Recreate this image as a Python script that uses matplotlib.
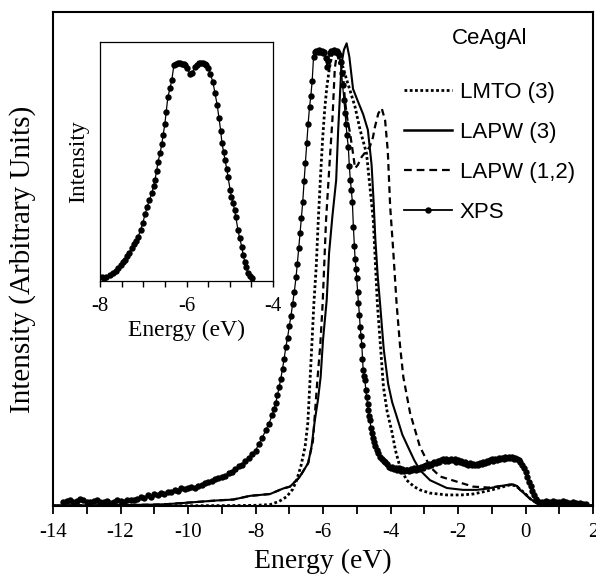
import matplotlib
matplotlib.use("Agg")
import matplotlib.pyplot as plt
from matplotlib.ticker import MultipleLocator, FixedLocator, NullLocator
from matplotlib.lines import Line2D

plt.rcParams['axes.unicode_minus'] = False
plt.rcParams['font.family'] = ['Liberation Serif', 'DejaVu Serif']

# ---------------- data ----------------
# LMTO (3) calculated spectrum
lmto_e = [-14, -10, -8.5, -8.0, -7.57, -7.3, -7.08, -6.9, -6.78, -6.65, -6.53, -6.45,
          -6.39, -6.33, -6.27, -6.2, -6.14, -6.07, -6.01, -5.95, -5.89, -5.81, -5.74,
          -5.68, -5.62, -5.56, -5.50, -5.41, -5.30, -5.2, -5.05, -4.9, -4.71, -4.61,
          -4.51, -4.45, -4.39, -4.3, -4.21, -4.1, -3.97, -3.85, -3.72, -3.52, -3.3,
          -3.13, -2.83, -2.33, -1.9, -1.55, -1.3, -1.0, -0.7, -0.45, -0.3, -0.15, 0.0,
          0.15, 0.35, 0.6, 1.0, 2.0]
lmto_i = [0.0, 0.05, 0.1, 0.15, 0.3, 1.0, 2.0, 3.6, 5.6, 8.8, 12.9, 18,
          26.5, 35, 44, 52, 62, 72, 79.8, 86, 90.7, 95, 97.8,
          98.8, 99, 98, 95.7, 95.3, 92.5, 90.2, 86.6, 81.6, 76.5, 69.3,
          62, 53, 44, 35, 25.9, 20.5, 16.5, 12, 8.5, 5.6, 4.2,
          3.5, 2.8, 2.4, 2.4, 2.6, 3.0, 3.5, 4.1, 4.6, 4.4, 3.6, 2.6,
          1.5, 0.6, 0.3, 0.15, 0.1]

# LAPW (3) calculated spectrum
lapw3_e = [-14, -12, -11, -10.63, -10.15, -9.15, -8.66, -8.16, -7.57, -7.18, -6.98,
           -6.7, -6.44, -6.34, -6.24, -6.15, -6.07, -6.0, -5.89, -5.82, -5.72, -5.61,
           -5.55, -5.45, -5.38, -5.30, -5.22, -5.11, -5.03, -4.96, -4.81, -4.67, -4.56,
           -4.50, -4.45, -4.38, -4.31, -4.20, -4.07, -3.95, -3.82, -3.65, -3.48, -3.30,
           -3.13, -2.83, -2.33, -1.85, -1.45, -1.10, -0.85, -0.60, -0.37, -0.25, -0.16,
           0.0, 0.13, 0.33, 0.6, 1.0, 2.0]
lapw3_i = [0.1, 0.2, 0.3, 0.4, 0.65, 1.2, 1.4, 2.2, 2.6, 3.8, 4.2,
           6.2, 9.3, 12.9, 18.7, 23, 28, 36, 44.7, 54.9, 63, 70.7,
           81.6, 96, 99, 100.4, 97.5, 90.5, 89, 87.7, 85, 81.6, 74,
           66, 58, 50, 44, 34, 26.5, 22.5, 19.5, 15.5, 12.8, 10,
           7.8, 5.6, 3.9, 3.5, 3.5, 3.8, 4.2, 4.5, 4.7, 4.3, 3.5,
           2.5, 1.6, 0.65, 0.3, 0.2, 0.1]

# LAPW (1,2) calculated spectrum
lapw12_e = [-14, -12, -11, -10.63, -10.15, -9.15, -8.66, -8.16, -7.57, -7.18, -6.98,
            -6.7, -6.44, -6.3, -6.17, -6.08, -6.01, -5.91, -5.8, -5.72, -5.65, -5.58,
            -5.5, -5.4, -5.35, -5.28, -5.2, -5.12, -5.05, -4.97, -4.85, -4.72, -4.61,
            -4.52, -4.46, -4.36, -4.26, -4.16, -4.08, -4.01, -3.92, -3.82, -3.72, -3.62,
            -3.42, -3.13, -2.83, -2.53, -2.04, -1.55, -1.10, -0.85, -0.60, -0.37, -0.25,
            -0.16, 0.0, 0.13, 0.33, 0.6, 1.0, 2.0]
lapw12_i = [0.1, 0.2, 0.3, 0.4, 0.65, 1.2, 1.4, 2.2, 2.6, 3.8, 4.2,
            6.2, 9.3, 14, 27, 35, 44, 62, 75, 84, 95, 98.5,
            97, 93, 88, 84, 81, 77, 73.3, 74, 75.8, 77, 78,
            80, 82.3, 85.2, 86.3, 83.7, 77, 65, 55.5, 44, 35, 28,
            20.2, 12.9, 8.5, 6.4, 5.3, 4.2, 4.0, 4.2, 4.5, 4.7, 4.3,
            3.5, 2.5, 1.6, 0.65, 0.3, 0.2, 0.1]

# XPS measurement
xps_e = [-13.70, -13.60, -13.50, -13.40, -13.30, -13.20, -13.10, -13.00, -12.90, -12.80,
         -12.70, -12.60, -12.50, -12.40, -12.30, -12.20, -12.10, -12.00, -11.90, -11.80,
         -11.70, -11.60, -11.50, -11.40, -11.30, -11.20, -11.10, -11.00, -10.90, -10.80,
         -10.70, -10.60, -10.50, -10.40, -10.30, -10.20, -10.10, -10.00, -9.90, -9.80,
         -9.70, -9.60, -9.50, -9.40, -9.30, -9.20, -9.10, -9.00, -8.90, -8.80,
         -8.70, -8.60, -8.50, -8.40, -8.30, -8.20, -8.10, -8.00, -7.90, -7.80,
         -7.70, -7.60, -7.50, -7.45, -7.40, -7.35, -7.30, -7.25, -7.20, -7.15,
         -7.10, -7.05, -7.00, -6.95, -6.90, -6.85, -6.80, -6.76, -6.72, -6.68,
         -6.64, -6.60, -6.56, -6.52, -6.48, -6.44, -6.40, -6.36, -6.32, -6.28,
         -6.24, -6.20, -6.16, -6.12, -6.08, -6.04, -6.00, -5.96, -5.92, -5.88,
         -5.84, -5.80, -5.76, -5.72, -5.68, -5.64, -5.60, -5.56, -5.52, -5.48,
         -5.45, -5.42, -5.38, -5.35, -5.32, -5.29, -5.25, -5.22, -5.19, -5.16,
         -5.13, -5.10, -5.07, -5.05, -5.02, -5.00, -4.97, -4.95, -4.92, -4.90,
         -4.87, -4.85, -4.83, -4.81, -4.78, -4.76, -4.73, -4.71, -4.68, -4.66,
         -4.63, -4.61, -4.58, -4.56, -4.52, -4.49, -4.45, -4.41, -4.36, -4.31,
         -4.26, -4.20, -4.15, -4.10, -4.05, -4.00, -3.95, -3.90, -3.85, -3.80,
         -3.75, -3.70, -3.65, -3.60, -3.55, -3.50, -3.45, -3.40, -3.35, -3.30,
         -3.25, -3.20, -3.15, -3.10, -3.05, -3.00, -2.95, -2.90, -2.85, -2.80,
         -2.75, -2.70, -2.65, -2.60, -2.55, -2.50, -2.45, -2.40, -2.35, -2.30,
         -2.25, -2.20, -2.15, -2.10, -2.05, -2.00, -1.95, -1.90, -1.85, -1.80,
         -1.75, -1.70, -1.65, -1.60, -1.55, -1.50, -1.45, -1.40, -1.35, -1.30,
         -1.25, -1.20, -1.15, -1.10, -1.05, -1.00, -0.95, -0.90, -0.85, -0.80,
         -0.75, -0.70, -0.65, -0.60, -0.55, -0.50, -0.45, -0.40, -0.35, -0.30,
         -0.25, -0.20, -0.15, -0.10, -0.05, 0.00, 0.05, 0.10, 0.15, 0.20,
         0.25, 0.30, 0.35, 0.40, 0.50, 0.60, 0.70, 0.80, 0.90, 1.00,
         1.10, 1.20, 1.30, 1.40, 1.50, 1.60, 1.70, 1.80]
xps_i = [0.8, 1.0, 1.2, 0.9, 1.1, 1.5, 1.2, 0.8, 0.9, 1.1,
         1.3, 0.9, 0.8, 1.0, 0.7, 0.9, 1.4, 1.0, 0.8, 1.2,
         1.4, 1.3, 1.6, 1.9, 1.8, 2.3, 2.0, 2.6, 2.4, 2.9,
         2.7, 3.1, 3.0, 3.4, 3.2, 3.8, 3.6, 3.9, 4.1, 3.9,
         4.4, 4.6, 4.9, 5.1, 5.4, 5.8, 6.0, 6.4, 6.5, 7.1,
         7.3, 8.0, 8.6, 9.0, 9.7, 10.4, 11.2, 12.0, 13.5, 14.8,
         16.4, 17.9, 19.8, 21.0, 22.4, 24.0, 25.8, 27.6, 29.8, 32.0,
         34.6, 36.5, 39.0, 41.2, 43.8, 46.5, 49.6, 52.6, 56.0, 59.2,
         62.5, 66.0, 70.5, 74.5, 78.8, 83.0, 86.5, 89.0, 92.3, 97.5,
         98.6, 98.8, 98.5, 99.0, 98.6, 98.8, 98.3, 98.6, 97.2, 95.2,
         96.5, 98.2, 98.8, 98.5, 98.9, 98.6, 98.8, 98.4, 97.8, 96.3,
         94.0, 91.4, 88.0, 85.2, 83.0, 80.5, 77.9, 73.8, 70.7, 68.5,
         66.0, 60.6, 56.5, 53.7, 51.5, 49.4, 46.5, 44.0, 41.5, 38.9,
         36.8, 34.9, 32.0, 29.5, 28.3, 27.3, 25.2, 23.7, 22.2, 20.8,
         19.6, 18.7, 17.0, 15.8, 14.8, 13.9, 13.0, 12.1, 11.4, 10.7,
         10.3, 9.8, 9.5, 9.2, 8.5, 8.2, 8.4, 8.0, 8.3, 7.9,
         8.2, 7.7, 8.0, 7.6, 7.9, 7.8, 7.5, 8.0, 7.8, 8.2,
         7.9, 8.3, 8.0, 8.5, 8.2, 8.6, 8.9, 8.7, 9.2, 9.0,
         9.4, 9.6, 9.3, 9.8, 9.5, 9.9, 10.2, 9.8, 10.1, 9.7,
         10.0, 10.3, 9.9, 10.1, 9.6, 9.9, 9.5, 9.8, 9.3, 9.6,
         9.2, 9.0, 9.4, 8.9, 9.2, 8.8, 9.1, 9.0, 9.3, 9.1,
         9.5, 9.4, 9.7, 9.5, 9.9, 10.1, 9.8, 10.2, 10.0, 10.4,
         10.2, 10.5, 10.3, 10.6, 10.4, 10.7, 10.5, 10.6, 10.3, 10.5,
         10.2, 10.0, 9.6, 9.0, 8.2, 7.4, 6.4, 5.3, 4.3, 3.2,
         2.3, 1.6, 1.1, 0.9, 0.8, 1.0, 0.9, 1.0, 0.8, 0.9,
         1.0, 0.8, 0.7, 0.8, 0.6, 0.7, 0.5, 0.5]

# Inset: XPS spectrum over -8 .. -4 eV
ins_e = [-7.96, -7.90, -7.85, -7.77, -7.70, -7.64, -7.58, -7.52, -7.47, -7.42,
         -7.37, -7.32, -7.27, -7.22, -7.17, -7.12, -7.06, -7.01, -6.96, -6.91,
         -6.86, -6.80, -6.76, -6.73, -6.69, -6.66, -6.61, -6.57, -6.54, -6.50,
         -6.47, -6.43, -6.38, -6.34, -6.29, -6.24, -6.19, -6.15, -6.10, -6.06,
         -6.03, -5.98, -5.92, -5.87, -5.81, -5.76, -5.71, -5.66, -5.62, -5.58,
         -5.54, -5.50, -5.45, -5.39, -5.34, -5.29, -5.25, -5.21, -5.18, -5.14,
         -5.11, -5.07, -5.04, -4.99, -4.96, -4.92, -4.89, -4.86, -4.81, -4.77,
         -4.72, -4.69, -4.65, -4.62, -4.58, -4.53, -4.49]
ins_i = [2.0, 1.5, 2.0, 2.8, 3.8, 4.8, 6.0, 7.5, 8.8, 9.6,
         11.5, 13.0, 15.1, 17.0, 18.5, 20.2, 23.5, 26.6, 30.5, 33.9,
         37.0, 40.4, 43.5, 46.3, 50.5, 54.6, 58.7, 63.0, 67.0, 72.0,
         77.5, 84.4, 88.5, 92.2, 99.1, 99.5, 100, 100, 99.5, 99.5,
         99.0, 97.5, 95.0, 95.4, 98.0, 99.0, 100, 100, 100, 99.5,
         99.0, 97.7, 95.0, 91.3, 86.0, 80.7, 74.8, 69.0, 63.3, 59.0,
         55.5, 51.5, 47.7, 41.7, 38.5, 35.8, 32.5, 29.4, 23.4, 19.5,
         15.6, 12.0, 8.7, 6.5, 3.7, 2.5, 1.4]

main_ticks = [-14, -12, -10, -8, -6, -4, -2, 0, 2]
inset_ticks = [-8, -6, -4]

# ---------------- figure ----------------
fig = plt.figure(figsize=(5.96, 5.76), dpi=100)
ax = fig.add_axes([53 / 596, 1 - 506 / 576, 540 / 596, 494 / 576])

ax.plot(lmto_e, lmto_i, color='black', lw=2.0, linestyle=(0, (1.0, 0.9)))
ax.plot(lapw3_e, lapw3_i, color='black', lw=1.5)
ax.plot(lapw12_e, lapw12_i, color='black', lw=1.6, linestyle=(0, (3.0, 2.0)))
ax.plot(xps_e, xps_i, color='black', lw=0.9, marker='o', markersize=4.6,
        markeredgewidth=0)

ax.set_xlim(-14, 2)
ax.set_ylim(0, 107.2)
ax.xaxis.set_major_locator(FixedLocator(main_ticks))
ax.xaxis.set_minor_locator(MultipleLocator(1))
ax.yaxis.set_major_locator(NullLocator())
ax.tick_params(axis='x', which='both', direction='out', length=6, width=1.3,
               labelsize=15, pad=6, top=False)
for s in ax.spines.values():
    s.set_linewidth(1.5)
ax.set_xlabel('Energy (eV)', fontsize=20, labelpad=5)
ax.set_ylabel('Intensity (Arbitrary Units)', fontsize=21, labelpad=12)

# legend with heading
h_lmto = Line2D([], [], color='black', lw=2.0, linestyle=(0, (1.0, 0.9)))
h_lapw3 = Line2D([], [], color='black', lw=1.8)
h_lapw12 = Line2D([], [], color='black', lw=1.6, linestyle=(0, (3.5, 2.2)))
h_xps = Line2D([], [], color='black', lw=1.3, marker='o', markersize=4.6,
               markeredgewidth=0)
leg = ax.legend([h_lmto, h_lapw3, h_lapw12, h_xps],
                ['LMTO (3)', 'LAPW (3)', 'LAPW (1,2)', 'XPS'],
                loc='upper right', bbox_to_anchor=(0.995, 1.0), frameon=False,
                prop={'family': 'Liberation Sans', 'size': 16},
                handlelength=2.15, handletextpad=0.35, labelspacing=0.85,
                numpoints=1, borderaxespad=0.3,
                title='CeAgAl', title_fontproperties={'family': 'Liberation Sans', 'size': 16})
leg._legend_box.sep = 24

# ---------------- inset ----------------
axi = fig.add_axes([100 / 596, 1 - 281 / 576, 173 / 596, 239 / 576])
axi.plot(ins_e, ins_i, color='black', lw=0.9, marker='o', markersize=4.6,
         markeredgewidth=0)
axi.set_xlim(-8, -4)
axi.set_ylim(0, 109.6)
axi.xaxis.set_major_locator(FixedLocator(inset_ticks))
axi.xaxis.set_minor_locator(MultipleLocator(0.5))
axi.yaxis.set_major_locator(NullLocator())
axi.tick_params(axis='x', which='both', direction='out', length=4.5, width=1.0,
                labelsize=15, pad=7, top=False)
for s in axi.spines.values():
    s.set_linewidth(0.9)
axi.set_xlabel('Energy (eV)', fontsize=17, labelpad=3)
axi.set_ylabel('Intensity', fontsize=17, labelpad=8)

fig.savefig('out.png', dpi=100)
